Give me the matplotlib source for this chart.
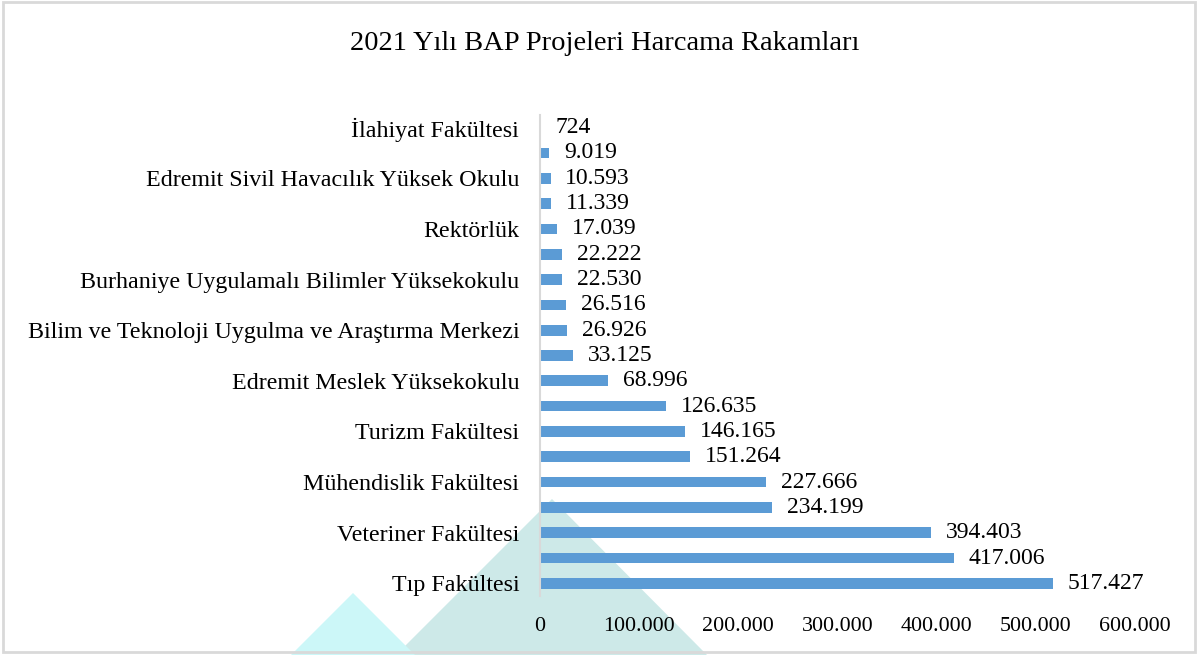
import matplotlib.pyplot as plt
from matplotlib.patches import Polygon, Rectangle

# categories from bottom (index 0) to top; unnamed bars have hidden labels
categories = ['Tıp Fakültesi', '', 'Veteriner Fakültesi', '', 'Mühendislik Fakültesi', '',
              'Turizm Fakültesi', '', 'Edremit Meslek Yüksekokulu', '',
              'Bilim ve Teknoloji Uygulma ve Araştırma Merkezi', '',
              'Burhaniye Uygulamalı Bilimler Yüksekokulu', '', 'Rektörlük', '',
              'Edremit Sivil Havacılık Yüksek Okulu', '', 'İlahiyat Fakültesi']
values = [517427, 417006, 394403, 234199, 227666, 151264, 146165, 126635, 68996, 33125,
          26926, 26516, 22530, 22222, 17039, 11339, 10593, 9019, 724]
xticks = [0, 100000, 200000, 300000, 400000, 500000, 600000]
title = '2021 Yılı BAP Projeleri Harcama Rakamları'

plt.rcParams['font.family'] = ['Liberation Serif', 'DejaVu Serif']

W, H = 1198, 655
fig = plt.figure(figsize=(W / 100, H / 100), dpi=100)

def px(x, y):
    return (x / W, 1 - y / H)

# decorative background triangles (teal behind, cyan in front)
fig.patches.append(Polygon([px(552, 499), px(395, 656), px(708, 656)], closed=True,
                           transform=fig.transFigure, facecolor='#cde9e8', edgecolor='none', zorder=-2))
fig.patches.append(Polygon([px(353, 593), px(290, 656), px(416, 656)], closed=True,
                           transform=fig.transFigure, facecolor='#ccf7f8', edgecolor='none', zorder=-1))
fig.patches.append(Rectangle(px(3, 652), 1192 / W, 650 / H, transform=fig.transFigure,
                             fill=False, edgecolor='#d9d9d9', linewidth=2, zorder=5))

ax = fig.add_axes([540 / W, 1 - 596 / H, (1135 - 540) / W, (596 - 115) / H])
ax.patch.set_alpha(0)

pos = range(len(values))
ax.barh(pos, values, height=0.42, color='#5b9bd5')
for p, v in zip(pos, values):
    ax.text(v + 15000, p, f'{v:,}'.replace(',', '.'), va='center', ha='left', fontsize=17)

ax.set_xlim(0, 600000)
ax.set_ylim(-0.5, len(values) - 0.5)
ax.set_yticks(list(pos))
ax.set_yticklabels(categories, fontsize=17.3)
ax.set_xticks(xticks)
ax.set_xticklabels([f'{t:,}'.replace(',', '.') for t in xticks], fontsize=15.8)
ax.tick_params(axis='both', length=0)
ax.tick_params(axis='y', pad=15)
ax.tick_params(axis='x', pad=15)
for s in ['top', 'right', 'bottom']:
    ax.spines[s].set_visible(False)
ax.spines['left'].set_color('#d9d9d9')
ax.spines['left'].set_linewidth(1.5)

fig.text(605 / W, 1 - 44 / H, title, ha='center', va='center', fontsize=20.5)

fig.savefig('out.png', dpi=100)
